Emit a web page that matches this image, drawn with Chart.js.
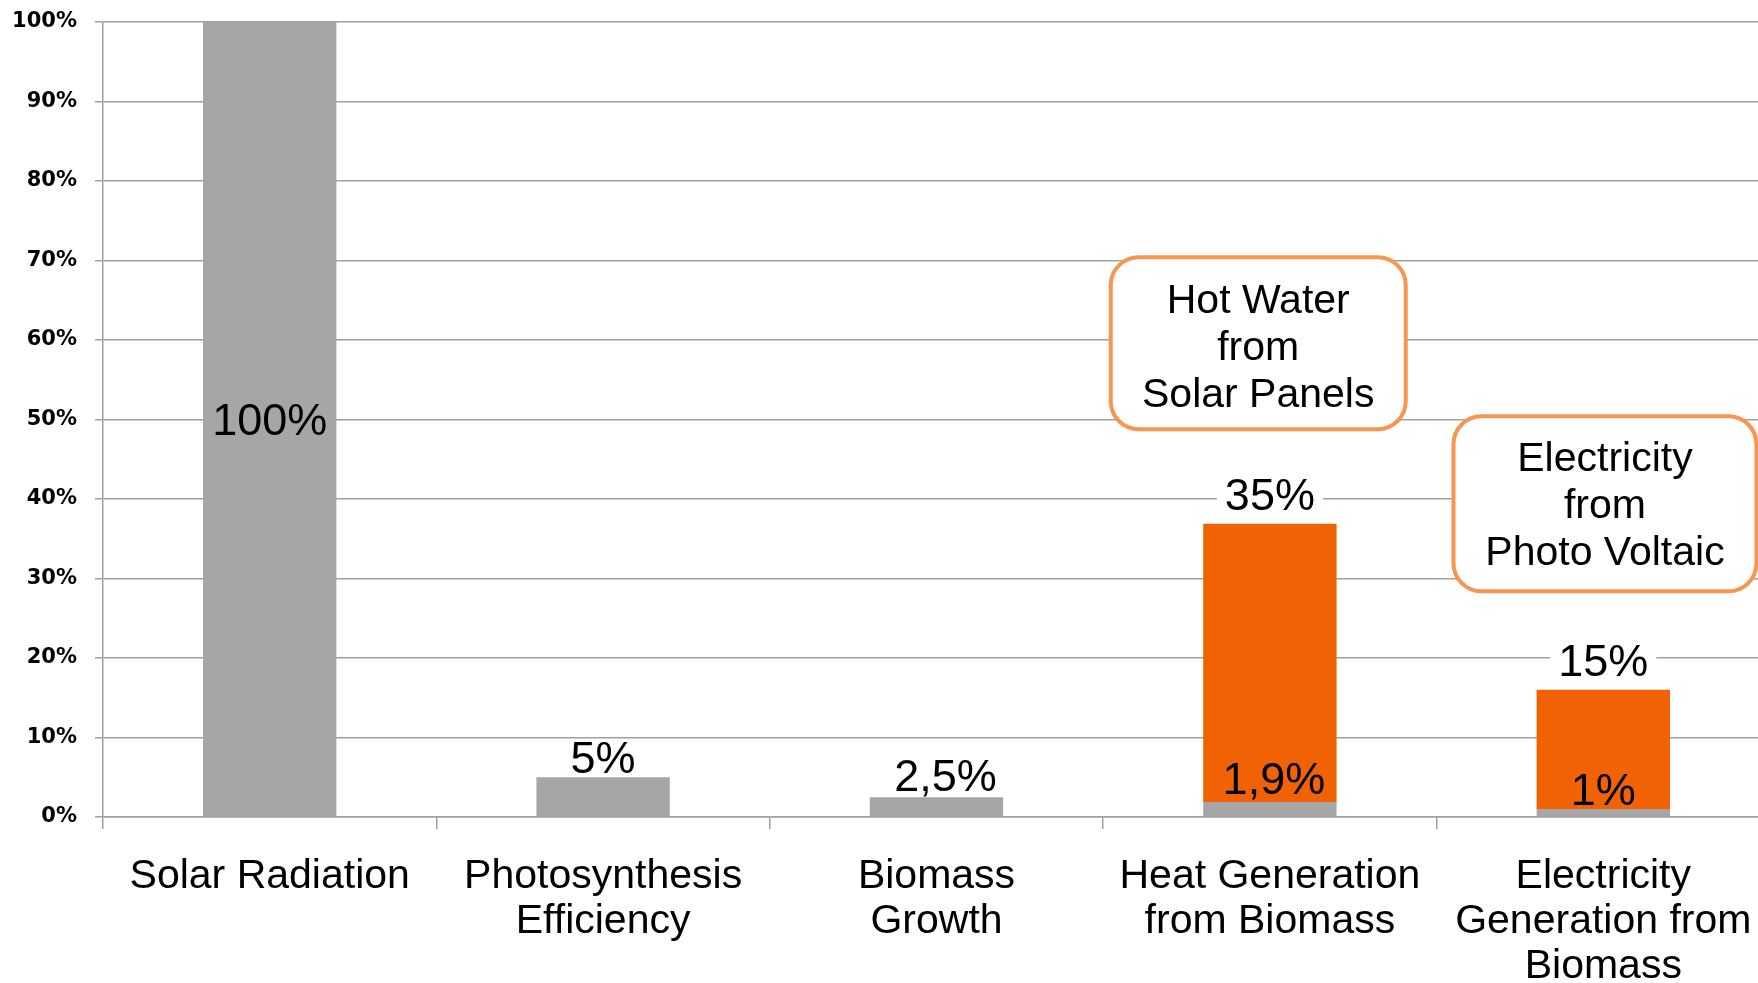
<!DOCTYPE html>
<html>
<head>
<meta charset="utf-8">
<script src="https://cdn.jsdelivr.net/npm/chart.js@4"></script>
<style>
  html, body { margin: 0; padding: 0; background: #fff; overflow: hidden; width: 1758px; height: 983px; }
  #wrap { position: relative; width: 1770px; height: 983px; }
</style>
</head>
<body>
<div id="wrap"><canvas id="c"></canvas></div>
<script>
// ---- data ----
const categories = [
  'Solar Radiation',
  ['Photosynthesis', 'Efficiency'],
  ['Biomass', 'Growth'],
  ['Heat Generation', 'from Biomass'],
  ['Electricity', 'Generation from', 'Biomass']
];
const baseValues = [100, 5, 2.5, 1.9, 1];          // grey part
const baseLabels = ['100%', '5%', '2,5%', '1,9%', '1%'];
const solarValues = [null, null, null, 35, 15];     // orange part (stacked)
const solarLabels = ['', '', '', '35%', '15%'];
const yTicks = [0, 10, 20, 30, 40, 50, 60, 70, 80, 90, 100];

const noteTexts = [
  ['Hot Water', 'from', 'Solar Panels'],
  ['Electricity', 'from', 'Photo Voltaic']
];
const noteCategory = [2.965, 4.005];
const noteValue = [59.6, 39.4];

const GREY = '#a6a6a6';
const ORANGE = '#F06204';
const LINE = '#a0a0a0';
const FONT = '"Liberation Sans", Arial, sans-serif';

const labelPlugin = {
  id: 'valueLabels',
  afterDatasetsDraw(chart) {
    const ctx = chart.ctx;
    const ys = chart.scales.y;
    const dx = [0, 0, 9, 4, 0];
    const lift = [0, 4, 6, 8, 4];
    ctx.save();
    ctx.font = '45px ' + FONT;
    ctx.fillStyle = '#000';
    ctx.textAlign = 'center';
    const m0 = chart.getDatasetMeta(0);
    m0.data.forEach((bar, i) => {
      const t = baseLabels[i];
      if (!t) return;
      if (i === 0) {
        ctx.textBaseline = 'middle';
        ctx.fillText(t, bar.x, ys.getPixelForValue(baseValues[i] / 2) + 3);
      } else {
        ctx.textBaseline = 'alphabetic';
        ctx.fillText(t, bar.x + dx[i], bar.y - lift[i]);
      }
    });
    const m1 = chart.getDatasetMeta(1);
    m1.data.forEach((bar, i) => {
      const t = solarLabels[i];
      if (!t || solarValues[i] == null) return;
      const w = ctx.measureText(t).width;
      const by = bar.y - 14;
      ctx.fillStyle = '#fff';
      ctx.fillRect(bar.x - w / 2 - 8, by - 36, w + 16, 40);
      ctx.fillStyle = '#000';
      ctx.textBaseline = 'alphabetic';
      ctx.fillText(t, bar.x, by);
    });
    ctx.restore();
  },
  afterDraw(chart) {
    const ctx = chart.ctx;
    const xs = chart.scales.x, ys = chart.scales.y;
    ctx.save();
    const sizes = [[295, 172], [303, 175]];
    const textShift = [6, 3];
    noteTexts.forEach((lines, k) => {
      const cx = xs.getPixelForValue(noteCategory[k]);
      const cy = ys.getPixelForValue(noteValue[k]);
      const w = sizes[k][0], h = sizes[k][1], r = 28;
      const x0 = cx - w / 2, y0 = cy - h / 2;
      ctx.beginPath();
      ctx.moveTo(x0 + r, y0);
      ctx.lineTo(x0 + w - r, y0);
      ctx.arcTo(x0 + w, y0, x0 + w, y0 + r, r);
      ctx.lineTo(x0 + w, y0 + h - r);
      ctx.arcTo(x0 + w, y0 + h, x0 + w - r, y0 + h, r);
      ctx.lineTo(x0 + r, y0 + h);
      ctx.arcTo(x0, y0 + h, x0, y0 + h - r, r);
      ctx.lineTo(x0, y0 + r);
      ctx.arcTo(x0, y0, x0 + r, y0, r);
      ctx.closePath();
      ctx.fillStyle = '#fff';
      ctx.fill();
      ctx.lineWidth = 4;
      ctx.strokeStyle = '#F8964F';
      ctx.stroke();
      ctx.fillStyle = '#000';
      ctx.font = '41px ' + FONT;
      ctx.textAlign = 'center';
      ctx.textBaseline = 'middle';
      lines.forEach((ln, j) => {
        ctx.fillText(ln, cx, cy + textShift[k] + (j - 1) * 47);
      });
    });
    ctx.restore();
  }
};

new Chart(document.getElementById('c'), {
  type: 'bar',
  data: {
    labels: categories,
    datasets: [
      { data: baseValues, backgroundColor: GREY, borderWidth: 0 },
      { data: solarValues, backgroundColor: ORANGE, borderWidth: 0 }
    ]
  },
  options: {
    responsive: true,
    maintainAspectRatio: false,
    animation: false,
    events: [],
    layout: { padding: { left: 0, top: 22, right: 0, bottom: 0 } },
    datasets: { bar: { categoryPercentage: 1.0, barPercentage: 0.4 } },
    plugins: { legend: { display: false }, tooltip: { enabled: false }, title: { display: false } },
    scales: {
      x: {
        stacked: true,
        afterFit: (axis) => { axis.height = 166; axis.paddingLeft = 0; axis.paddingRight = 0; },
        grid: { offset: true, drawOnChartArea: false, drawTicks: true, tickLength: 12, color: LINE, lineWidth: 1.5 },
        border: { display: true, color: LINE, width: 1.5 },
        ticks: {
          color: '#000',
          padding: 25,
          maxRotation: 0,
          autoSkip: false,
          font: { family: FONT, size: 41, lineHeight: 1.1 }
        }
      },
      y: {
        stacked: true,
        min: 0,
        max: 100,
        afterBuildTicks: (axis) => { axis.ticks = yTicks.map(v => ({ value: v })); },
        afterFit: (axis) => { axis.width = 103; axis.paddingTop = 0; axis.paddingBottom = 0; },
        grid: { color: LINE, lineWidth: 1.5, tickLength: 8 },
        border: { display: true, color: LINE, width: 1.5 },
        ticks: {
          color: '#000',
          padding: 18,
          font: { family: '"DejaVu Sans", sans-serif', size: 21, weight: 'bold' },
          callback: (v) => v + '%'
        }
      }
    }
  },
  plugins: [labelPlugin]
});
</script>
</body>
</html>
